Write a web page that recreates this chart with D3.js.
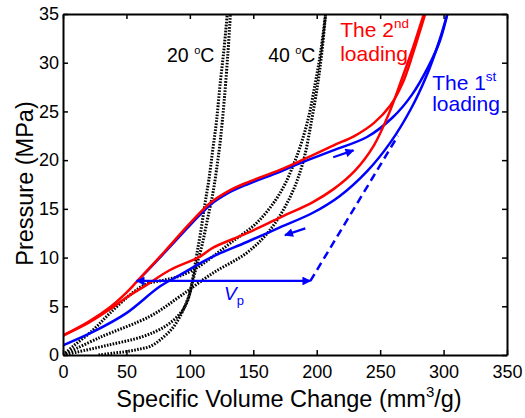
<!DOCTYPE html>
<html>
<head>
<meta charset="utf-8">
<script src="https://cdn.jsdelivr.net/npm/d3@7"></script>
<style>
  body { margin: 0; background: #fff; }
  svg { font-family: "Liberation Sans", Arial, sans-serif; }
  .axis path, .axis line { stroke: #000; }
  .axis text { font-size: 18px; fill: #000; }
</style>
</head>
<body>
<div id="chart"></div>
<script>
// tick values
var xTicks = [0, 50, 100, 150, 200, 250, 300, 350];
var yTicks = [0, 5, 10, 15, 20, 25, 30, 35];

// 2nd loading (red), two branches
var red2Upper = [[0,2.0],[20,3.4],[37,4.9],[50,6.4],[58,7.5],[80,10.6],[100,13.5],[116,15.6],[130,16.8],[145,17.7],[171,19.0],[190,20.1],[213,21.5],[230,22.5],[245,23.8],[258,25.6],[268,28.0],[276,31.0],[282,33.5],[285.5,35]];
var red2Lower = [[0,2.0],[20,3.3],[37,4.7],[50,5.9],[66,7.2],[84,8.7],[108,10.1],[118,11.0],[145,12.5],[171,14.1],[197,15.7],[213,17.0],[230,18.9],[245,21.5],[257,24.8],[267,28.3],[276,31.6],[281,33.6],[284.5,35]];

// 1st loading (blue), two branches
var blue1Upper = [[58,7.5],[80,10.5],[100,13.3],[116,15.4],[130,16.6],[145,17.5],[171,18.8],[187,19.7],[213,21.0],[240,22.4],[260,24.4],[275,26.7],[288,29.6],[297,32.2],[303,35]];
var blue1Lower = [[0,1.0],[24,2.4],[50,4.3],[76,7.0],[92,8.2],[108,9.4],[118,10.1],[145,11.6],[171,13.1],[197,14.6],[218,16.3],[240,18.9],[258,21.8],[274,25.2],[287,28.8],[296,32],[303,35]];

// dotted reference curves
var t20Load = [[0,0],[11,0.3],[35,1.0],[63,1.9],[80,2.9],[92,4.2],[98,5.5],[102.5,7.7],[106,9.5],[110,11.5],[114,14],[118,16.5],[121,19],[124,22],[127,26],[130,31],[132,35]];
var t20Unload = [[28,0],[40,0.2],[50,0.35],[60,0.6],[69,0.9],[78,1.7],[86,2.7],[92,3.9],[97,5.3],[100,6.4],[103,8.4],[105.7,10.5],[109,13],[112,15.6],[115,18],[118,21],[121,24],[124,28],[127,31.5],[129.5,35]];
var t40Load = [[0,0],[8,0.9],[24,2.6],[37,4.3],[55,6.4],[66,7.3],[80,7.7],[92,8.1],[106,9.0],[118,10.1],[132,11.5],[153,13.6],[171,16.6],[184,20.3],[193,24.1],[199,28],[203,31],[207,35]];
var t40Unload = [[0,0],[29,1.8],[69,4.0],[92,6.0],[118,8.4],[145,10.5],[163,12.8],[179,16.2],[189,19.7],[196,24.1],[201,28],[204,31],[207,35]];

// V_p arrow, dashed line, direction arrows
var vpArrow = [[58,7.6],[195,7.6]];
var vpDashed = [[195,7.6],[264,22.5]];
var arrowUp = [[213,20.3],[229,21.0]];
var arrowDown = [[191,13.0],[175,12.3]];

var W = 525, H = 418;
var margin = {top: 14, right: 18, bottom: 63, left: 63},
    width = W - margin.left - margin.right,
    height = H - margin.top - margin.bottom;

var svg = d3.select("#chart").append("svg")
    .attr("width", W)
    .attr("height", H);

var defs = svg.append("defs");
defs.append("marker")
  .attr("id", "arrBlue")
  .attr("viewBox", "0 0 10 10")
  .attr("refX", 9).attr("refY", 5)
  .attr("markerWidth", 5.5).attr("markerHeight", 4)
  .attr("markerUnits", "strokeWidth")
  .attr("orient", "auto-start-reverse")
  .append("path")
  .attr("d", "M0,0 L10,5 L0,10 z")
  .attr("fill", "#0000ff");

var g = svg.append("g")
    .attr("transform", "translate(" + margin.left + "," + margin.top + ")");

var x = d3.scaleLinear().domain([0, 350]).range([0, width]);
var y = d3.scaleLinear().domain([0, 35]).range([height, 0]);

var line = d3.line()
    .x(function(d) { return x(d[0]); })
    .y(function(d) { return y(d[1]); })
    .curve(d3.curveCatmullRom.alpha(0.5));

var straight = d3.line()
    .x(function(d) { return x(d[0]); })
    .y(function(d) { return y(d[1]); });

// clip to plot box
defs.append("clipPath").attr("id", "box")
  .append("rect").attr("width", width).attr("height", height);

var plot = g.append("g").attr("clip-path", "url(#box)");

// dotted curves
[t20Load, t20Unload, t40Load, t40Unload].forEach(function(d) {
  plot.append("path")
    .datum(d)
    .attr("fill", "none")
    .attr("stroke", "#000")
    .attr("stroke-width", 3)
    .attr("stroke-dasharray", "1.6,1.4")
    .attr("d", line);
});

// blue curves
[blue1Lower, blue1Upper].forEach(function(d) {
  plot.append("path")
    .datum(d)
    .attr("fill", "none")
    .attr("stroke", "#0000ff")
    .attr("stroke-width", 2.5)
    .attr("d", line);
});

// red curves
[red2Lower, red2Upper].forEach(function(d) {
  plot.append("path")
    .datum(d)
    .attr("fill", "none")
    .attr("stroke", "#ff0000")
    .attr("stroke-width", 2.5)
    .attr("d", line);
});

// V_p arrow (double headed)
plot.append("path")
  .datum(vpArrow)
  .attr("fill", "none")
  .attr("stroke", "#0000ff")
  .attr("stroke-width", 2.2)
  .attr("marker-start", "url(#arrBlue)")
  .attr("marker-end", "url(#arrBlue)")
  .attr("d", straight);

plot.append("path")
  .datum(vpDashed)
  .attr("fill", "none")
  .attr("stroke", "#0000ff")
  .attr("stroke-width", 2.5)
  .attr("stroke-dasharray", "8,5")
  .attr("d", straight);

[arrowUp, arrowDown].forEach(function(d) {
  plot.append("path")
    .datum(d)
    .attr("fill", "none")
    .attr("stroke", "#0000ff")
    .attr("stroke-width", 2.2)
    .attr("marker-end", "url(#arrBlue)")
    .attr("d", straight);
});

// axes
g.append("g")
  .attr("class", "axis")
  .attr("transform", "translate(0," + height + ")")
  .call(d3.axisBottom(x).tickValues(xTicks).tickSizeInner(-5).tickSizeOuter(0).tickPadding(10));

g.append("g")
  .attr("class", "axis")
  .call(d3.axisLeft(y).tickValues(yTicks).tickSizeInner(-5).tickSizeOuter(0).tickPadding(4));

g.append("g")
  .attr("class", "axis")
  .call(d3.axisTop(x).tickValues(xTicks).tickSizeInner(-5).tickSizeOuter(0).tickFormat(""));

g.append("g")
  .attr("class", "axis")
  .attr("transform", "translate(" + width + ",0)")
  .call(d3.axisRight(y).tickValues(yTicks).tickSizeInner(-5).tickSizeOuter(0).tickFormat(""));

g.selectAll(".axis path.domain").attr("stroke-width", 2);
g.selectAll(".axis .tick line").attr("stroke-width", 1.5);

// axis titles
var xt = g.append("text")
  .attr("x", width / 2 + 4)
  .attr("y", height + 52)
  .attr("text-anchor", "middle")
  .attr("font-size", 23.5)
  .text("Specific Volume Change (mm");
xt.append("tspan").attr("font-size", 15).attr("dy", -10).text("3");
xt.append("tspan").attr("dy", 10).text("/g)");

g.append("text")
  .attr("transform", "translate(-30," + (height / 2 - 1) + ") rotate(-90)")
  .attr("text-anchor", "middle")
  .attr("font-size", 23.5)
  .text("Pressure (MPa)");

// temperature labels
function tempLabel(xv, label) {
  var t = g.append("text")
    .attr("x", x(xv))
    .attr("y", y(30.1))
    .attr("font-size", 19.5)
    .text(label + " ");
  t.append("tspan").attr("font-size", 11).attr("dy", -8).text("o");
  t.append("tspan").attr("dy", 8).text("C");
}
tempLabel(82, "20");
tempLabel(161.7, "40");

// series labels
var r1 = g.append("text").attr("x", x(218.5)).attr("y", y(32.6))
  .attr("font-size", 21).attr("fill", "#ff0000").text("The 2");
r1.append("tspan").attr("font-size", 13.5).attr("dy", -9).text("nd");
g.append("text").attr("x", x(218.5)).attr("y", y(30.2))
  .attr("font-size", 21).attr("fill", "#ff0000").text("loading");

var b1 = g.append("text").attr("x", x(291)).attr("y", y(27.2))
  .attr("font-size", 21).attr("fill", "#0000ff").text("The 1");
b1.append("tspan").attr("font-size", 13.5).attr("dy", -9).text("st");
g.append("text").attr("x", x(291)).attr("y", y(25.05))
  .attr("font-size", 21).attr("fill", "#0000ff").text("loading");

var vp = g.append("text").attr("x", x(127)).attr("y", y(5.65))
  .attr("font-size", 19).attr("fill", "#0000ff");
vp.append("tspan").attr("font-style", "italic").text("V");
vp.append("tspan").attr("font-size", 13).attr("dy", 5).text("p");
</script>
</body>
</html>
